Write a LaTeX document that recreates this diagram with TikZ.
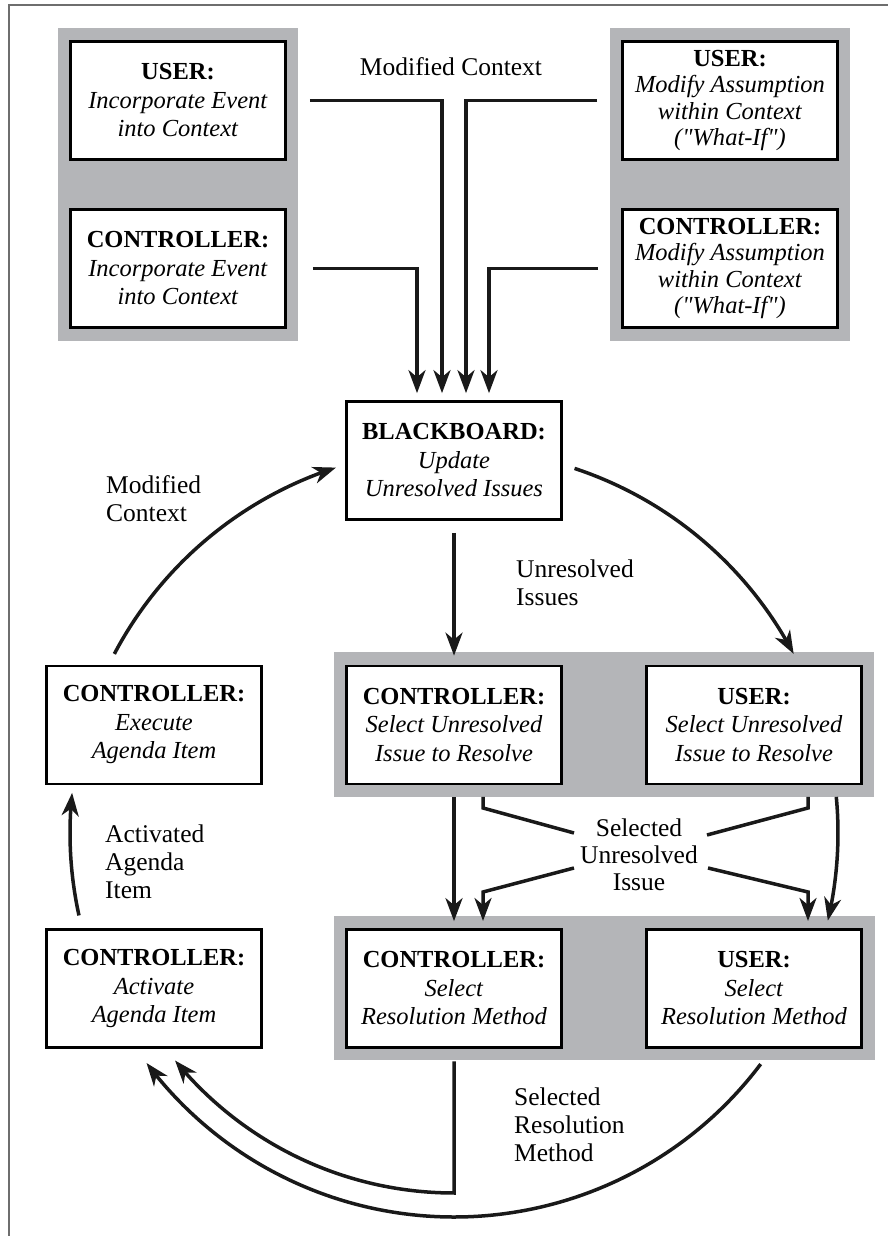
\documentclass[tikz,border=0pt]{standalone}
\usepackage{fontspec}
\setmainfont{Liberation Serif}[Ligatures=TeXOff]
\usetikzlibrary{arrows.meta,bending,calc}
\definecolor{panelgray}{RGB}{180,181,184}
\definecolor{framegray}{RGB}{110,110,110}
\begin{document}
\begin{tikzpicture}[x=1pt,y=1pt,
  box/.style={draw=black, line width=2.7pt, fill=white, minimum width=215pt, minimum height=118pt, inner sep=0pt, align=center, font=\fontsize{24.5}{28.5}\selectfont},
  boxfour/.style={box, font=\fontsize{24.5}{26.5}\selectfont},
  panel/.style={fill=panelgray, draw=none, inner sep=0pt},
  conn/.style={line width=3.5pt, draw=black!90, line join=miter},
  arr/.style={conn, -{Stealth[length=23pt,width=17pt,inset=7pt]}},
  lbl/.style={align=left, font=\fontsize{25.5}{28}\selectfont, inner sep=0pt},
  clbl/.style={align=center, font=\fontsize{25.5}{27}\selectfont, inner sep=0pt},
  ]
\useasboundingbox (0,0) rectangle (888,1236);
% frame
\draw[framegray, line width=1.8pt] (9,0) -- (9,1231) -- (888,1231);
% panels
\node[panel, minimum width=240pt, minimum height=313pt] (p1) at (178,1051.5) {};
\node[panel, minimum width=240pt, minimum height=313pt] (p2) at (730,1051.5) {};
\node[panel, minimum width=540pt, minimum height=145pt] (p3) at (604,511.5) {};
\node[panel, minimum width=541pt, minimum height=144pt] (p4) at (604.5,248) {};
% boxes
\node[box] (ul) at (178,1135.5) {\textbf{USER:}\\\textit{Incorporate Event}\\\textit{into Context}};
\node[box] (cl) at (178,967.5) {\textbf{CONTROLLER:}\\\textit{Incorporate Event}\\\textit{into Context}};
\node[boxfour] (ur) at (730,1135.5) {\textbf{USER:}\\\textit{Modify Assumption}\\\textit{within Context}\\\textit{("What-If")}};
\node[boxfour] (cr) at (730,967.5) {\textbf{CONTROLLER:}\\\textit{Modify Assumption}\\\textit{within Context}\\\textit{("What-If")}};
\node[box] (bb) at (454,775.5) {\textbf{BLACKBOARD:}\\\textit{Update}\\\textit{Unresolved Issues}};
\node[box] (ex) at (154,511) {\textbf{CONTROLLER:}\\\textit{Execute}\\\textit{Agenda Item}};
\node[box] (cs) at (454,511) {\textbf{CONTROLLER:}\\\textit{Select Unresolved}\\\textit{Issue to Resolve}};
\node[box] (us) at (754,511) {\textbf{USER:}\\\textit{Select Unresolved}\\\textit{Issue to Resolve}};
\node[box] (ac) at (154,247.5) {\textbf{CONTROLLER:}\\\textit{Activate}\\\textit{Agenda Item}};
\node[box] (cm) at (454,247.5) {\textbf{CONTROLLER:}\\\textit{Select}\\\textit{Resolution Method}};
\node[box] (um) at (754,247.5) {\textbf{USER:}\\\textit{Select}\\\textit{Resolution Method}};
% labels
\node[clbl] (lmc) at (451,1169) {Modified Context};
\node[lbl, anchor=west] (lmc2) at (106,737) {Modified\\Context};
\node[lbl, anchor=west] (lui) at (516,653) {Unresolved\\Issues};
\node[lbl, anchor=west] (lai) at (105,374) {Activated\\Agenda\\Item};
\node[clbl] (lsui) at (639,381) {Selected\\Unresolved\\Issue};
\node[lbl, anchor=west] (lsrm) at (514,111) {Selected\\Resolution\\Method};
% top connectors into blackboard
\draw[arr] ([xshift=23pt]ul.east) -| ([shift={(-12pt,7pt)}]bb.north);
\draw[arr] ([xshift=-24pt]ur.west) -| ([shift={(12pt,7pt)}]bb.north);
\draw[arr] ([xshift=26pt]cl.east) -| ([shift={(-37pt,7pt)}]bb.north);
\draw[arr] ([xshift=-23pt]cr.west) -| ([shift={(35pt,7pt)}]bb.north);
% blackboard down to controller
\draw[arr] ([yshift=-12pt]bb.south) -- ([yshift=9pt]cs.north);
% circle arcs
\coordinate (C) at (454,403);
\coordinate (a1s) at ($(C)+(152.2:384)$);
\coordinate (a2s) at ($(C)+(71.7:384)$);
\coordinate (a3s) at ($(C)+(5.4:384)$);
\coordinate (a4s) at ($(C)+(-37:384)$);
\coordinate (a5s) at ($(C)+(192.4:384)$);
\draw[arr] (a1s) arc[start angle=152.2, end angle=107.9, radius=384];
\draw[arr] (a2s) arc[start angle=71.7, end angle=27.8, radius=384];
\draw[arr] (a3s) arc[start angle=5.4, end angle=-13.2, radius=384];
\draw[arr] (a4s) arc[start angle=-37, end angle=-143.2, radius=384];
\draw[arr] (a5s) arc[start angle=192.4, end angle=174, radius=384];
% inner return from controller method
\coordinate (ib) at (454,43);
\draw[arr] ([yshift=-12.5pt]cm.south) -- (ib) arc[start angle=-90, end angle=-140.8, radius=360];
% middle to bottom
\draw[arr] ([yshift=-12pt]cs.south) -- ([yshift=7pt]cm.north);
\coordinate (l1a) at (483,439);
\coordinate (l1b) at (483,428);
\coordinate (l1c) at (574,403);
\coordinate (l2a) at (574,368);
\coordinate (l2b) at (483,344);
\coordinate (l2c) at (483,315);
\coordinate (r1a) at (808,439);
\coordinate (r1b) at (808,428);
\coordinate (r1c) at (707,401);
\coordinate (r2a) at (708,368);
\coordinate (r2b) at (808,344);
\coordinate (r2c) at (808,315);
\draw[conn] (l1a) -- (l1b) -- (l1c);
\draw[arr] (l2a) -- (l2b) -- (l2c);
\draw[conn] (r1a) -- (r1b) -- (r1c);
\draw[arr] (r2a) -- (r2b) -- (r2c);
\end{tikzpicture}
\end{document}
